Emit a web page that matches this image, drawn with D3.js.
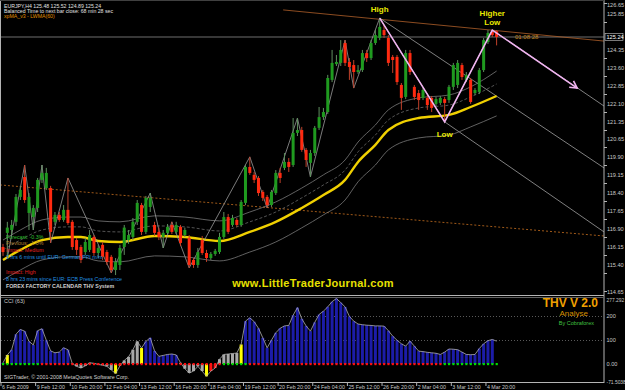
<!DOCTYPE html>
<html>
<head>
<meta charset="utf-8">
<script src="https://cdn.jsdelivr.net/npm/d3@7"></script>
<style>
body{margin:0;background:#000;}
text{font-family:"Liberation Sans",Arial,sans-serif;}
</style>
</head>
<body>
<div id="chart"></div>
<script>
// EURJPY H4 candles, 6 Feb 2009 - 5 Mar 2009
var opens = [116.48,117.07,117.19,117.53,118.57,119.40,117.90,117.73,118.11,119.28,
118.94,118.94,117.53,117.82,117.61,118.03,117.53,116.77,116.48,116.27,
116.36,116.90,116.23,116.57,116.27,116.07,115.52,115.73,116.48,116.77,
116.90,117.53,118.23,117.11,118.15,117.40,117.11,116.90,117.07,117.40,
117.11,117.32,116.98,116.86,115.94,115.73,116.77,116.23,116.02,116.19,
116.27,116.90,117.73,117.40,117.61,117.40,118.32,119.82,119.49,119.36,
118.78,118.57,118.23,118.73,119.57,119.78,120.03,119.90,121.24,121.36,
120.53,119.99,120.40,121.45,121.90,122.11,123.45,124.11,124.16,124.99,
124.20,124.07,123.78,123.86,124.57,124.36,124.99,125.20,125.53,125.20,
124.41,124.41,123.24,122.74,124.57,123.16,122.90,122.70,122.70,122.70,
122.45,122.49,122.65,122.61,123.16,123.24,124.07,123.45,123.45,122.90,
122.95,123.86,125.03,125.45,125.48]
var highs = [116.61,117.53,117.61,118.69,119.03,119.90,118.73,118.23,119.36,119.90,
119.78,119.03,117.94,117.94,118.23,119.36,117.61,116.86,116.57,116.86,
117.19,116.98,116.57,116.69,116.36,116.15,116.02,116.57,117.40,117.19,
117.69,118.44,118.32,118.61,118.73,117.53,117.29,117.19,117.44,117.53,
117.53,117.40,117.29,116.98,116.02,116.44,116.94,116.36,116.27,116.40,
117.07,117.94,117.86,117.82,117.69,118.44,119.90,120.24,119.61,119.44,
118.86,118.65,118.86,119.69,119.78,120.40,120.19,121.86,121.86,121.49,
120.61,120.53,121.53,122.32,122.28,123.66,124.70,124.49,125.11,125.11,
124.36,124.28,124.07,124.70,124.70,125.11,125.53,126.03,125.74,125.32,
124.49,124.49,123.32,124.70,124.70,123.24,123.03,123.11,122.82,122.78,
122.74,122.78,122.74,123.24,124.16,124.28,124.16,123.78,123.53,123.11,
123.95,125.20,125.53,125.53,125.52]
var lows = [116.11,116.02,116.98,117.36,118.44,118.32,117.19,117.19,117.94,119.15,
118.86,116.65,117.40,117.53,117.53,117.40,116.36,116.15,115.81,116.15,
116.27,116.11,116.02,115.94,115.73,115.40,115.31,115.52,116.15,116.61,
116.77,117.40,116.98,117.02,117.94,116.94,116.77,116.44,116.98,117.02,
117.02,116.52,116.90,115.61,115.61,115.61,116.15,115.86,115.94,116.11,
116.19,116.82,117.02,117.32,117.32,117.32,118.23,119.49,119.15,118.61,
118.40,118.11,118.15,118.65,119.15,119.69,119.61,119.82,121.11,120.45,
119.82,119.40,120.28,121.36,121.78,122.03,123.36,124.03,124.03,124.03,
123.45,123.11,123.70,123.78,124.20,124.28,124.91,125.11,125.20,124.03,
123.74,123.24,122.20,122.65,123.66,122.61,122.20,122.61,122.20,122.11,
122.36,122.40,121.70,122.49,123.03,123.11,123.45,123.36,122.45,122.82,
122.86,123.78,124.95,125.24,124.89]
var closes = [116.27,117.29,117.40,118.57,118.86,118.44,118.57,118.11,119.28,119.57,
119.57,117.11,117.82,117.61,118.03,117.48,116.48,116.36,115.94,116.69,
116.98,116.23,116.44,116.07,115.86,115.52,115.86,116.44,117.29,116.98,
117.53,118.32,117.11,118.53,118.53,117.07,116.90,117.07,117.32,117.11,
117.40,116.65,117.19,115.73,115.73,116.27,116.23,116.02,116.19,116.32,
116.90,117.73,117.11,117.69,117.40,118.36,119.82,119.57,119.28,118.73,
118.53,118.23,118.78,119.57,119.36,120.03,119.82,121.24,121.36,120.53,
120.11,120.40,121.45,121.90,122.11,123.53,124.16,124.20,124.70,124.16,
123.99,123.78,123.86,124.57,124.36,124.99,125.32,125.66,125.32,124.16,
124.28,123.36,122.70,124.57,123.78,122.74,122.61,123.03,122.40,122.28,
122.65,122.70,122.49,123.16,124.07,124.16,123.57,123.66,122.53,123.03,
123.86,125.11,125.41,125.32,125.24]

// moving average LWMA(60) and its bands, read at these bars
var maBars  = [0,4,9,15,18,22,27,35,42,50,57,63,69,74,79,82,86,89,96,103,108,114]
var maVals  = [115.94,116.36,116.77,116.90,116.90,116.73,116.69,116.94,116.90,116.73,117.11,117.53,118.11,118.65,119.28,120.03,120.74,121.36,121.86,121.99,122.32,122.78]
var maUpper = [116.77,117.19,117.61,117.73,117.73,117.57,117.53,117.78,117.73,117.57,117.94,118.36,118.94,119.49,120.11,120.86,121.57,122.20,122.70,122.82,123.16,123.82]
var maMid   = [116.36,116.77,117.19,117.32,117.32,117.15,117.11,117.36,117.32,117.15,117.53,117.94,118.53,119.07,119.69,120.45,121.15,121.78,122.28,122.40,122.74,123.28]
var maLower = [115.11,115.52,115.94,116.07,116.07,115.90,115.86,116.11,116.07,115.90,116.27,116.69,117.28,117.82,118.44,119.20,119.90,120.53,121.03,121.15,121.49,121.95]

// zigzag swing points
var zzBars  = [1,5,7,9,11,15,25,34,37,39,43,57,61,68,71,79,81,87,102,113]
var zzVals  = [116.02,119.90,117.19,119.90,116.65,119.36,115.40,118.73,116.44,117.53,115.61,120.24,118.11,121.86,119.40,125.11,123.11,126.03,121.70,125.53]

// manual drawings: High / Low / Higher Low and projection
var pinkBars = [87,102,113,132.6]
var pinkVals = [126.03,121.70,125.53,123.11]

var trendLines = [
  {b1:64.7,v1:126.37,b2:138.8,v2:125.07,color:"#b0602a",dash:null},
  {b1:-0.7,v1:119.07,b2:138.8,v2:116.94,color:"#c87020",dash:"2,2"},
  {b1:113,v1:125.53,b2:138.8,v2:122.36,color:"#a0a0a0",dash:null},
  {b1:87,v1:126.03,b2:138.8,v2:119.78,color:"#a0a0a0",dash:null},
  {b1:102,v1:121.70,b2:138.8,v2:117.11,color:"#a0a0a0",dash:null}
]

var lastPrice = 125.24
var priceTicks = [126.65,125.85,124.35,123.60,122.85,122.10,121.35,120.65,119.90,119.15,118.40,117.65,116.90,116.15,115.40,114.65]

var dateLabels = ["6 Feb 2009","9 Feb 12:00","10 Feb 20:00","12 Feb 04:00","13 Feb 12:00","16 Feb 20:00","18 Feb 04:00","19 Feb 12:00","20 Feb 20:00","24 Feb 04:00","25 Feb 12:00","26 Feb 20:00","2 Mar 04:00","3 Mar 12:00","4 Mar 20:00"]

// CCI(63)
var cciVals = [5,38,60,125,145,138,95,80,140,148,
100,55,47,50,68,60,2,-10,-17,-8,
5,3,-2,-5,-10,-25,-40,-8,15,30,
60,95,67,95,110,55,32,36,40,42,
38,5,-20,-38,-30,-10,-30,-52,-30,-17,
20,40,42,44,46,82,180,194,178,150,
110,68,100,131,150,160,162,205,237,190,
160,138,175,208,222,240,262,275,258,240,
200,180,168,165,163,162,160,160,159,140,
117,100,85,75,96,75,54,52,49,47,
45,40,50,63,62,60,50,40,39,40,
65,85,98,103,96]
var cciHist = "bybbbbbbbbbbbbbbggggggggggyrggggybbbbbbbbggggggyrrgggggybbbbbbbbbbbbbbbbbbbbbbbbbbbbbbbbbbbbbbbbbbbbbbbbbbbbbbbbbb"
var cciDots = "GGGGGGGGGRRRRRRRRRRRRRRRRRRRRRRRRRRRRRRRRRRRRRRRRRRGGGGGGRRRRRRRRRRRRRRRRRRRRRRRRRRRRRRRRRRRRRRRRRRRRRGGGGGGGGGGGGG"
var cciTicks = [277.292,200,100,0,-71.5038]
var cciTickText = ["277.292","200","100","0.00","-71.5038"]

var W = 625, H = 390
var axisX = 604
var barStep = 4.33

var svg = d3.select("#chart").append("svg").attr("width",W).attr("height",H).style("background","#000")

var x = d3.scaleLinear().domain([0,139]).range([3,3+139*barStep])
var y = d3.scaleLinear().domain([114.52,126.70]).range([294,2])
var yc = d3.scaleLinear().domain([-71.5038,277.292]).range([381,298])

svg.append("clipPath").attr("id","mainClip").append("rect").attr("x",1).attr("y",1).attr("width",axisX-1).attr("height",294)
svg.append("clipPath").attr("id","cciClip").append("rect").attr("x",1).attr("y",297).attr("width",axisX-1).attr("height",85)

var main = svg.append("g").attr("clip-path","url(#mainClip)")
var sub = svg.append("g").attr("clip-path","url(#cciClip)")

// frames
var frameColor = "#b4b4b4"
svg.append("line").attr("x1",axisX).attr("x2",axisX).attr("y1",0).attr("y2",383).attr("stroke",frameColor)
svg.append("line").attr("x1",1).attr("x2",axisX).attr("y1",295.5).attr("y2",295.5).attr("stroke",frameColor)
svg.append("line").attr("x1",1).attr("x2",axisX).attr("y1",297.5).attr("y2",297.5).attr("stroke","#606060")
svg.append("line").attr("x1",1).attr("x2",axisX).attr("y1",382.5).attr("y2",382.5).attr("stroke",frameColor)
svg.append("line").attr("x1",0.5).attr("x2",0.5).attr("y1",0).attr("y2",383).attr("stroke",frameColor)
svg.append("line").attr("x1",0).attr("x2",axisX).attr("y1",0.5).attr("y2",0.5).attr("stroke","#404040")

// last price line
main.append("line").attr("x1",1).attr("x2",axisX).attr("y1",y(lastPrice)).attr("y2",y(lastPrice)).attr("stroke","#8c8c8c").attr("stroke-width",0.8)

// trend lines
main.selectAll(".trend").data(trendLines).enter().append("line")
.attr("x1",function(d){return x(d.b1)}).attr("y1",function(d){return y(d.v1)})
.attr("x2",function(d){return x(d.b2)}).attr("y2",function(d){return y(d.v2)})
.attr("stroke",function(d){return d.color}).attr("stroke-width",0.8)
.attr("stroke-dasharray",function(d){return d.dash})

// MA bands
function bandLine(vals){
    return d3.line().x(function(d,i){return x(maBars[i])}).y(function(d){return y(d)}).curve(d3.curveMonotoneX)(vals)
}
main.append("path").attr("d",bandLine(maUpper)).attr("fill","none").attr("stroke","#7a7a7a").attr("stroke-width",0.8)
main.append("path").attr("d",bandLine(maMid)).attr("fill","none").attr("stroke","#6a6a6a").attr("stroke-width",0.8).attr("stroke-dasharray","3,2")
main.append("path").attr("d",bandLine(maLower)).attr("fill","none").attr("stroke","#7a7a7a").attr("stroke-width",0.8)
main.append("path").attr("d",bandLine(maVals)).attr("fill","none").attr("stroke","#f0d000").attr("stroke-width",2.4)

// zigzag
var zz = d3.line().x(function(d,i){return x(zzBars[i])}).y(function(d){return y(d)})
main.append("path").attr("d",zz(zzVals)).attr("fill","none").attr("stroke","#9a9a9a").attr("stroke-width",0.8)

// candles
var idx = d3.range(opens.length)
var bull = "#1f9a1f", bear = "#ff2a10"
main.selectAll(".wick").data(idx).enter().append("line")
.attr("x1",function(i){return x(i)}).attr("x2",function(i){return x(i)})
.attr("y1",function(i){return y(highs[i])}).attr("y2",function(i){return y(lows[i])})
.attr("stroke",function(i){return closes[i]>=opens[i]?"#5f8f5f":"#c0402a"}).attr("stroke-width",1)
main.selectAll(".body").data(idx).enter().append("rect")
.attr("x",function(i){return x(i)-1.5}).attr("width",3)
.attr("y",function(i){return y(Math.max(opens[i],closes[i]))})
.attr("height",function(i){return Math.max(1,Math.abs(y(opens[i])-y(closes[i])))})
.attr("fill",function(i){return closes[i]>=opens[i]?bull:bear})

// pink drawing
var pink = d3.line().x(function(d,i){return x(pinkBars[i])}).y(function(d){return y(d)})
main.append("path").attr("d",pink(pinkVals)).attr("fill","none").attr("stroke","#f0b4f0").attr("stroke-width",1.6)
var ax = x(pinkBars[3]), ay = y(pinkVals[3])
var ang = Math.atan2(ay-y(pinkVals[2]),ax-x(pinkBars[2]))
main.append("path").attr("d","M"+(ax-8*Math.cos(ang-0.5))+","+(ay-8*Math.sin(ang-0.5))+"L"+ax+","+ay+"L"+(ax-8*Math.cos(ang+0.5))+","+(ay-8*Math.sin(ang+0.5)))
.attr("fill","none").attr("stroke","#f0b4f0").attr("stroke-width",1.6)

// annotation labels
var ann = svg.append("g").attr("font-size",8).attr("font-weight","bold").attr("fill","#e8e800").attr("text-anchor","middle")
ann.append("text").attr("x",x(87)).attr("y",y(126.03)-6).text("High")
ann.append("text").attr("x",x(102)).attr("y",y(121.70)+15).text("Low")
ann.append("text").attr("x",x(113)).attr("y",y(125.53)-14).text("Higher")
ann.append("text").attr("x",x(113)).attr("y",y(125.53)-5).text("Low")
svg.append("text").attr("x",515).attr("y",y(lastPrice)+2).attr("font-size",6).attr("fill","#c88a20").text("01:08:28")

// price axis
var axisFont = 5.6
svg.selectAll(".ptick").data(priceTicks).enter().append("line")
.attr("x1",axisX).attr("x2",axisX+3).attr("y1",function(d){return Math.round(y(d))+0.5}).attr("y2",function(d){return Math.round(y(d))+0.5}).attr("stroke",frameColor)
svg.selectAll(".plabel").data(priceTicks).enter().append("text")
.attr("x",axisX+3).attr("y",function(d,i){
    if(i==0) return 7
    if(i==priceTicks.length-1) return 294
    return y(d)-6})
.attr("font-size",axisFont).attr("fill","#c8c8c8").text(function(d){return d.toFixed(2)})
svg.append("rect").attr("x",axisX+1).attr("y",y(lastPrice)-3.5).attr("width",18).attr("height",7).attr("fill","#000").attr("stroke","#c8c8c8").attr("stroke-width",0.6)
svg.append("text").attr("x",axisX+2.5).attr("y",y(lastPrice)+2).attr("font-size",axisFont).attr("fill","#ffffff").text(lastPrice.toFixed(2))

// date axis
svg.selectAll(".dlabel").data(dateLabels).enter().append("text")
.attr("x",function(d,i){return x(i*8)-1}).attr("y",389)
.attr("font-size",5.3).attr("fill","#c8c8c8").text(function(d){return d})
svg.selectAll(".dtick").data(dateLabels).enter().append("line")
.attr("x1",function(d,i){return x(i*8)-2}).attr("x2",function(d,i){return x(i*8)-2})
.attr("y1",383).attr("y2",386).attr("stroke",frameColor)

// CCI panel
sub.selectAll(".cgrid").data([200,100]).enter().append("line")
.attr("x1",1).attr("x2",axisX).attr("y1",function(d){return Math.round(yc(d))+0.5}).attr("y2",function(d){return Math.round(yc(d))+0.5})
.attr("stroke","#808080").attr("stroke-width",0.7).attr("stroke-dasharray","1,2")
var histColor = {b:"#1c1ca8",g:"#a8a8a8",y:"#ffff00",r:"#ff1010"}
sub.selectAll(".cbar").data(idx).enter().append("rect")
.attr("x",function(i){return x(i)-1.5}).attr("width",3)
.attr("y",function(i){return Math.min(yc(0),yc(cciVals[i]))})
.attr("height",function(i){return Math.abs(yc(cciVals[i])-yc(0))})
.attr("fill",function(i){return histColor[cciHist[i]]})
var cl = d3.line().x(function(d,i){return x(i)}).y(function(d){return yc(d)})
sub.append("path").attr("d",cl(cciVals)).attr("fill","none").attr("stroke","#b0b0b0").attr("stroke-width",0.8)
sub.selectAll(".cdot").data(idx).enter().append("rect")
.attr("x",function(i){return x(i)-1}).attr("y",yc(0)-1).attr("width",2.2).attr("height",2.2)
.attr("fill",function(i){return cciDots[i]=="G"?"#00e000":"#ff1010"})

svg.selectAll(".clabel").data(cciTicks).enter().append("text")
.attr("x",axisX+2.5).attr("y",function(d,i){
    if(i==0) return 302
    if(i==cciTicks.length-1) return 384
    return yc(d)+2})
.attr("font-size",function(d,i){return (i==0||i==cciTicks.length-1)?4.9:axisFont}).attr("fill","#c8c8c8").text(function(d,i){return cciTickText[i]})

svg.append("text").attr("x",4).attr("y",303).attr("font-size",5.5).attr("fill","#c8c8c8").text("CCI  (63)")
svg.append("text").attr("x",598).attr("y",307).attr("text-anchor","end").attr("font-size",12).attr("font-weight","bold").attr("fill","#f0a000").text("THV V 2.0")
svg.append("text").attr("x",588).attr("y",316).attr("text-anchor","end").attr("font-size",8).attr("fill","#d89000").text("Analyse")
svg.append("text").attr("x",594).attr("y",325).attr("text-anchor","end").attr("font-size",5.5).attr("fill","#40c040").text("By Cobraforex")
svg.append("text").attr("x",4).attr("y",379).attr("font-size",5.3).attr("fill","#d0d0d0").text("SIGTrader, \u00a9 2001-2008 MetaQuotes Software Corp.")

// header texts
var head = svg.append("g").attr("font-size",5.2)
head.append("text").attr("x",4).attr("y",7.5).attr("fill","#e0e0e0").text("EURJPY,H4  125.48 125.52 124.89 125.24")
head.append("text").attr("x",4).attr("y",12.5).attr("fill","#e0e0e0").text("Balanced Time to next bar close: 68 min 28 sec")
head.append("text").attr("x",4).attr("y",17.5).attr("fill","#e09000").text("xpMA_v3 - LWMA(60)")

// calendar texts
var cal = svg.append("g").attr("font-size",5.3)
cal.append("text").attr("x",6).attr("y",238.5).attr("fill","#30c030").text("Forecast: -0.3%")
cal.append("text").attr("x",6).attr("y",245).attr("fill","#b08030").text("Previous: -1.0%")
cal.append("text").attr("x",6).attr("y",252).attr("fill","#e02020").text("Impact: Medium")
cal.append("text").attr("x",6).attr("y",258.5).attr("fill","#2090e0").text("2 hrs 6 mins until EUR: German PPI m/m")
cal.append("text").attr("x",6).attr("y",273.5).attr("fill","#e02020").text("Impact: High")
cal.append("text").attr("x",6).attr("y",280.5).attr("fill","#2090e0").text("8 hrs 23 mins since EUR: ECB Press Conference")
cal.append("text").attr("x",6).attr("y",287.5).attr("fill","#d0d0d0").attr("font-weight","bold").text("FOREX FACTORY CALENDAR THV System")

svg.append("text").attr("x",313).attr("y",287).attr("text-anchor","middle").attr("font-size",11).attr("font-weight","bold")
.attr("fill","#e8e000").attr("letter-spacing",0.3).text("www.LittleTraderJournal.com")
</script>
</body>
</html>
